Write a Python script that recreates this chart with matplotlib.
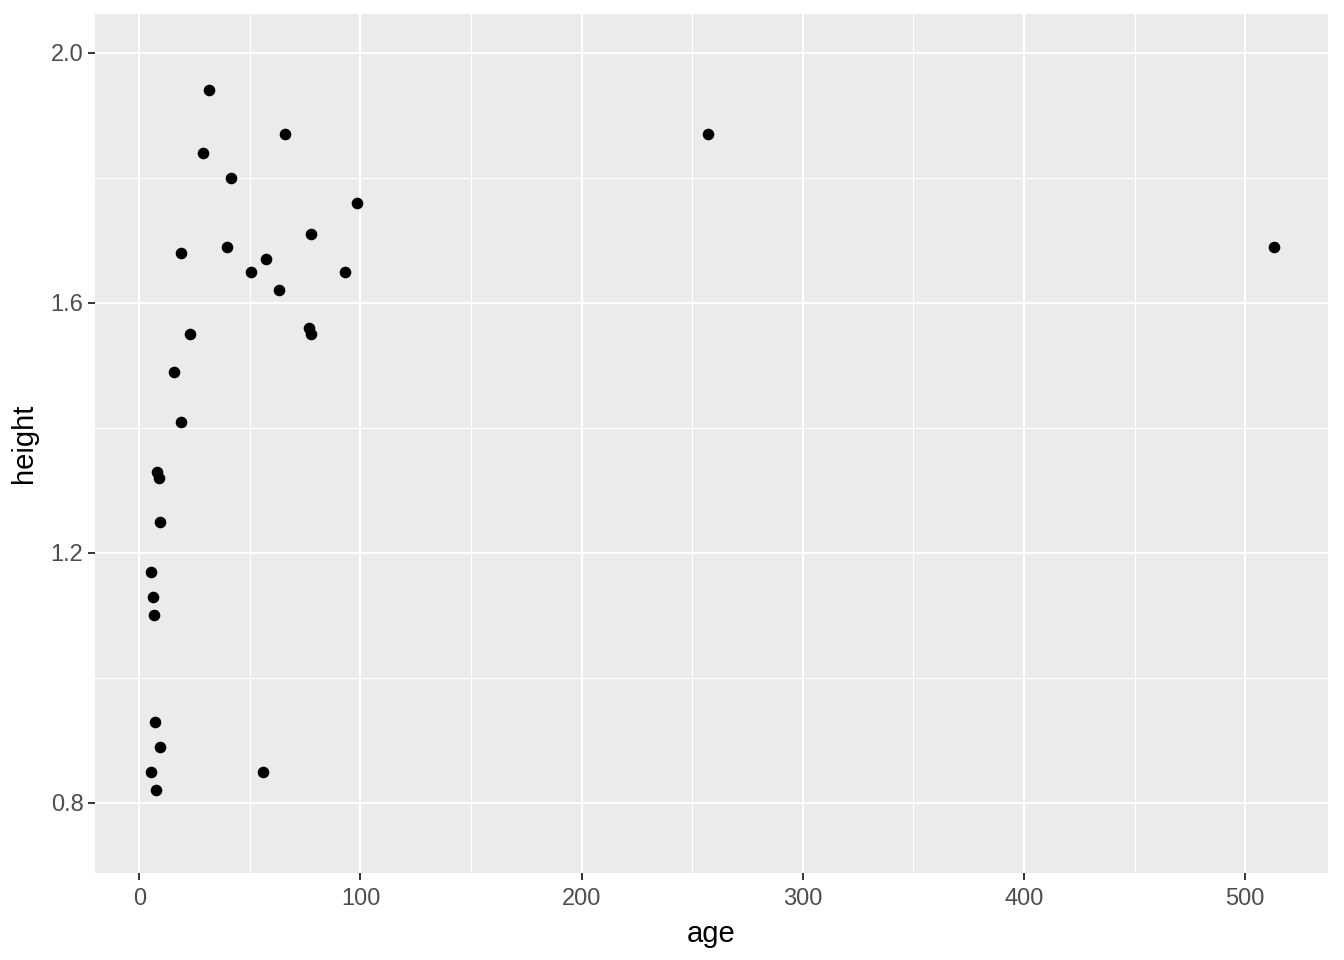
import numpy as np
import matplotlib.pyplot as plt
from matplotlib.ticker import MultipleLocator

# Data

age = [31.7, 66, 29, 41.6, 98.6, 77.8, 19, 39.8, 57.5, 50.7, 93.2, 63.3,
       76.9, 77.8, 23, 15.8, 19, 8.1, 9, 9.5, 5.4, 6.3, 6.8, 7.2, 9.5,
       5.4, 56, 7.7, 257, 513]
height = [1.94, 1.87, 1.84, 1.80, 1.76, 1.71, 1.68, 1.69, 1.67, 1.65, 1.65,
          1.62, 1.56, 1.55, 1.55, 1.49, 1.41, 1.33, 1.32, 1.25, 1.17, 1.13,
          1.10, 0.93, 0.89, 0.85, 0.85, 0.82, 1.87, 1.69]

# ggplot-like styling

plt.rcParams["font.family"] = ["Liberation Sans", "DejaVu Sans"]

fig = plt.figure(figsize=(13.44, 9.6), dpi=100)
ax = fig.add_axes([95 / 1344, 87 / 960, (1328 - 95) / 1344, (873 - 14) / 960])

ax.set_facecolor("#EBEBEB")
for spine in ax.spines.values():
    spine.set_visible(False)

ax.scatter(age, height, s=70, color="black", zorder=3, linewidths=0)

ax.set_xlim(-20, 537.4)
ax.set_ylim(0.688, 2.062)

ax.xaxis.set_major_locator(MultipleLocator(100))
ax.xaxis.set_minor_locator(MultipleLocator(50))
ax.set_yticks([0.8, 1.2, 1.6, 2.0])
ax.set_yticklabels(["0.8", "1.2", "1.6", "2.0"])
ax.set_yticks([1.0, 1.4, 1.8], minor=True)

ax.grid(which="major", color="white", linewidth=1.5)
ax.grid(which="minor", color="white", linewidth=0.75)
ax.set_axisbelow(True)

ax.tick_params(which="major", length=5.3, width=1.4, color="#333333",
               labelsize=17, labelcolor="#4D4D4D", pad=3)
ax.tick_params(axis="x", which="major", pad=5.5)
ax.tick_params(which="minor", length=0)

ax.set_xlabel("age", fontsize=21, color="black", labelpad=7)
ax.set_ylabel("height", fontsize=21, color="black", labelpad=9)

fig.savefig("out.png", dpi=100, facecolor="white")
